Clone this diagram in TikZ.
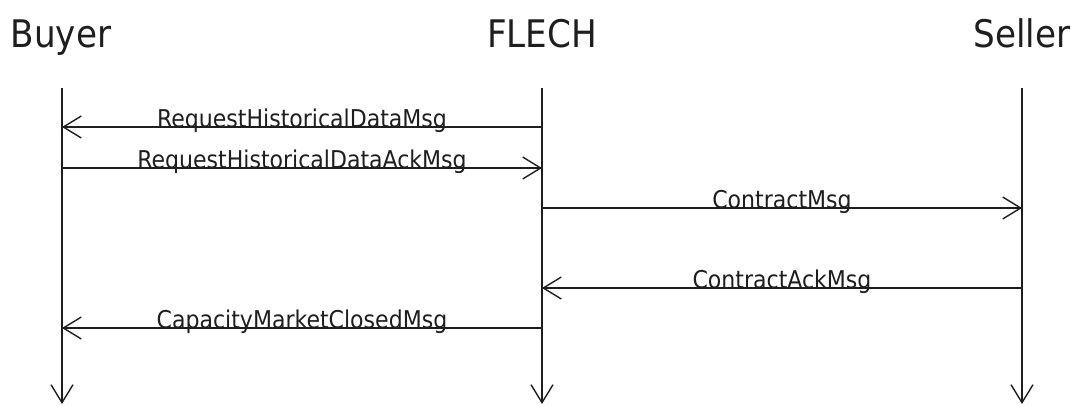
\documentclass[tikz,border=0pt]{standalone}
\usepackage{fontspec}
\setmainfont{DejaVu Sans Condensed}
\usetikzlibrary{arrows.meta,calc}
\definecolor{ink}{HTML}{1E1E1E}
\tikzset{
  barb/.style={-{Straight Barb[length=18pt,width=22pt,line width=1.4pt]}},
  lifeline/.style={draw=ink, line width=1.4pt, barb},
  msg/.style={draw=ink, line width=1.4pt, barb},
  actor/.style={anchor=base, inner sep=0pt, text=ink, font=\fontsize{38}{40}\selectfont},
  msglabel/.style={anchor=base, inner sep=0pt, text=ink, font=\fontsize{24.5}{26}\selectfont}
}
\begin{document}
\begin{tikzpicture}[x=1pt,y=-1pt]
\useasboundingbox (0,0) rectangle (1080,405);

% participants
\node[actor] (buyer)  at (61,47)   {Buyer};
\node[actor] (flech)  at (542,47)  {FLECH};
\node[actor] (seller) at (1022,47) {Seller};

% lifeline ends
\coordinate (bT) at (62,88);   \coordinate (bB) at (62,404);
\coordinate (fT) at (542,88);  \coordinate (fB) at (542,404);
\coordinate (sT) at (1022,88); \coordinate (sB) at (1022,404);
\draw[lifeline] (bT) -- (bB);
\draw[lifeline] (fT) -- (fB);
\draw[lifeline] (sT) -- (sB);

% message anchor points on the lifelines
\coordinate (b1) at (62,127);  \coordinate (f1) at (542,127);
\coordinate (b2) at (62,168);  \coordinate (f2) at (542,168);
\coordinate (f3) at (542,208); \coordinate (s3) at (1022,208);
\coordinate (f4) at (542,288); \coordinate (s4) at (1022,288);
\coordinate (b5) at (62,328);  \coordinate (f5) at (542,328);

% messages
\draw[msg] (f1) -- (b1);
\draw[msg] (b2) -- (f2);
\draw[msg] (f3) -- (s3);
\draw[msg] (s4) -- (f4);
\draw[msg] (f5) -- (b5);

% message labels
\node[msglabel] (m1) at ($(b1)!0.5!(f1)+(0,0)$) {RequestHistoricalDataMsg};
\node[msglabel] (m2) at ($(b2)!0.5!(f2)+(0,0)$) {RequestHistoricalDataAckMsg};
\node[msglabel] (m3) at ($(f3)!0.5!(s3)+(0,0)$) {ContractMsg};
\node[msglabel] (m4) at ($(f4)!0.5!(s4)+(0,0)$) {ContractAckMsg};
\node[msglabel] (m5) at ($(b5)!0.5!(f5)+(0,0)$) {CapacityMarketClosedMsg};
\end{tikzpicture}
\end{document}
